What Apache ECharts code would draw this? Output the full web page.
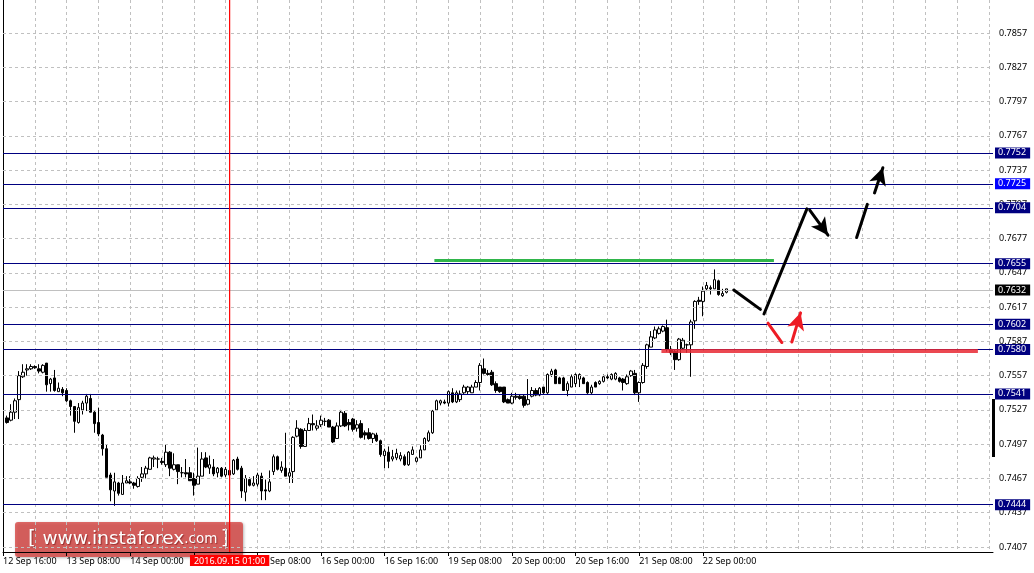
<!DOCTYPE html>
<html><head><meta charset="utf-8">
<script src="https://cdn.jsdelivr.net/npm/echarts@6/dist/echarts.min.js"></script>
<style>html,body{margin:0;padding:0;background:#fff}#c{width:1034px;height:573px}</style>
</head><body><div id="c"></div>
<script>
// H1 candles [open, close, low, high], first one is 12 Sep 17:00
const ohlc = [
[0.7520,0.7516,0.7515,0.7522],[0.7518,0.7525,0.7517,0.7532],[0.7525,0.7535,0.7519,0.7537],[0.7536,0.7557,0.7519,0.7561],
[0.7556,0.7560,0.7555,0.7567],[0.7562,0.7563,0.7557,0.7567],[0.7563,0.7565,0.7562,0.7567],[0.7565,0.7564,0.7563,0.7566],
[0.7563,0.7561,0.7559,0.7567],[0.7560,0.7566,0.7559,0.7567],[0.7568,0.7549,0.7543,0.7568],[0.7550,0.7554,0.7543,0.7555],
[0.7555,0.7544,0.7543,0.7562],[0.7543,0.7546,0.7543,0.7551],[0.7545,0.7542,0.7539,0.7547],[0.7544,0.7535,0.7534,0.7546],
[0.7535,0.7530,0.7522,0.7536],[0.7530,0.7517,0.7507,0.7530],[0.7516,0.7529,0.7515,0.7533],[0.7527,0.7533,0.7523,0.7535],
[0.7533,0.7539,0.7526,0.7541],[0.7537,0.7525,0.7525,0.7541],[0.7525,0.7515,0.7507,0.7526],[0.7516,0.7506,0.7504,0.7529],
[0.7505,0.7493,0.7487,0.7506],[0.7493,0.7468,0.7468,0.7497],[0.7470,0.7457,0.7447,0.7472],[0.7456,0.7464,0.7443,0.7472],
[0.7463,0.7454,0.7452,0.7464],[0.7453,0.7463,0.7453,0.7470],[0.7463,0.7465,0.7463,0.7469],[0.7464,0.7463,0.7462,0.7469],
[0.7463,0.7461,0.7458,0.7464],[0.7460,0.7467,0.7459,0.7469],[0.7468,0.7471,0.7464,0.7477],[0.7471,0.7476,0.7467,0.7478],
[0.7475,0.7485,0.7475,0.7486],[0.7484,0.7485,0.7477,0.7487],[0.7484,0.7484,0.7476,0.7486],[0.7482,0.7481,0.7479,0.7485],
[0.7479,0.7490,0.7477,0.7497],[0.7490,0.7476,0.7469,0.7491],[0.7475,0.7479,0.7474,0.7489],[0.7479,0.7473,0.7462,0.7479],
[0.7472,0.7472,0.7468,0.7477],[0.7472,0.7471,0.7468,0.7484],[0.7472,0.7465,0.7465,0.7477],[0.7467,0.7461,0.7452,0.7472],
[0.7462,0.7469,0.7462,0.7494],[0.7469,0.7484,0.7469,0.7490],[0.7485,0.7477,0.7476,0.7490],[0.7476,0.7479,0.7471,0.7487],
[0.7477,0.7471,0.7469,0.7484],[0.7472,0.7476,0.7468,0.7477],[0.7476,0.7469,0.7468,0.7477],[0.7470,0.7475,0.7468,0.7477],
[0.7474,0.7470,0.7469,0.7475],[0.7471,0.7483,0.7470,0.7484],[0.7484,0.7475,0.7474,0.7486],[0.7476,0.7456,0.7450,0.7478],
[0.7455,0.7467,0.7447,0.7470],[0.7466,0.7461,0.7460,0.7468],[0.7461,0.7463,0.7460,0.7469],[0.7462,0.7470,0.7460,0.7472],
[0.7469,0.7456,0.7448,0.7472],[0.7457,0.7456,0.7448,0.7466],[0.7456,0.7464,0.7455,0.7474],[0.7473,0.7486,0.7470,0.7488],
[0.7486,0.7475,0.7474,0.7487],[0.7474,0.7477,0.7472,0.7482],[0.7476,0.7469,0.7469,0.7507],[0.7469,0.7472,0.7463,0.7476],
[0.7473,0.7503,0.7463,0.7504],[0.7504,0.7511,0.7503,0.7518],[0.7510,0.7495,0.7493,0.7511],[0.7495,0.7509,0.7495,0.7511],
[0.7509,0.7515,0.7509,0.7520],[0.7515,0.7514,0.7509,0.7523],[0.7511,0.7513,0.7509,0.7518],[0.7514,0.7518,0.7512,0.7522],
[0.7517,0.7517,0.7513,0.7520],[0.7518,0.7512,0.7512,0.7519],[0.7512,0.7499,0.7498,0.7513],[0.7502,0.7513,0.7502,0.7516],
[0.7513,0.7525,0.7512,0.7527],[0.7524,0.7513,0.7512,0.7526],[0.7516,0.7514,0.7509,0.7519],[0.7519,0.7510,0.7508,0.7520],
[0.7511,0.7514,0.7508,0.7518],[0.7515,0.7503,0.7502,0.7518],[0.7507,0.7505,0.7501,0.7509],[0.7507,0.7502,0.7501,0.7511],
[0.7502,0.7506,0.7498,0.7507],[0.7505,0.7500,0.7499,0.7507],[0.7500,0.7488,0.7486,0.7501],[0.7487,0.7491,0.7476,0.7493],
[0.7490,0.7482,0.7476,0.7495],[0.7484,0.7486,0.7482,0.7492],[0.7485,0.7489,0.7483,0.7493],[0.7484,0.7487,0.7482,0.7490],
[0.7486,0.7479,0.7478,0.7488],[0.7479,0.7490,0.7478,0.7491],[0.7488,0.7492,0.7488,0.7495],[0.7482,0.7485,0.7481,0.7486],
[0.7485,0.7492,0.7485,0.7496],[0.7492,0.7502,0.7492,0.7503],[0.7500,0.7507,0.7499,0.7509],[0.7507,0.7526,0.7506,0.7527],
[0.7527,0.7535,0.7526,0.7536],[0.7533,0.7535,0.7531,0.7536],[0.7534,0.7533,0.7532,0.7536],[0.7533,0.7543,0.7530,0.7544],
[0.7542,0.7534,0.7533,0.7546],[0.7534,0.7542,0.7533,0.7544],[0.7536,0.7541,0.7534,0.7544],[0.7542,0.7547,0.7541,0.7549],
[0.7543,0.7547,0.7541,0.7548],[0.7542,0.7547,0.7542,0.7549],[0.7547,0.7551,0.7547,0.7553],[0.7551,0.7566,0.7544,0.7568],
[0.7563,0.7559,0.7558,0.7572],[0.7559,0.7558,0.7557,0.7562],[0.7560,0.7549,0.7548,0.7562],[0.7550,0.7544,0.7542,0.7552],
[0.7547,0.7543,0.7542,0.7547],[0.7547,0.7534,0.7533,0.7547],[0.7536,0.7533,0.7533,0.7537],[0.7533,0.7539,0.7532,0.7542],
[0.7539,0.7538,0.7536,0.7542],[0.7539,0.7537,0.7536,0.7540],[0.7539,0.7531,0.7529,0.7540],[0.7532,0.7536,0.7531,0.7554],
[0.7539,0.7544,0.7538,0.7547],[0.7544,0.7540,0.7539,0.7546],[0.7540,0.7546,0.7539,0.7547],[0.7547,0.7542,0.7541,0.7547],
[0.7542,0.7558,0.7541,0.7559],[0.7558,0.7561,0.7556,0.7563],[0.7562,0.7550,0.7550,0.7563],[0.7555,0.7550,0.7550,0.7556],
[0.7555,0.7544,0.7544,0.7556],[0.7544,0.7550,0.7539,0.7552],[0.7547,0.7556,0.7547,0.7558],[0.7550,0.7558,0.7547,0.7559],
[0.7554,0.7558,0.7547,0.7559],[0.7555,0.7550,0.7550,0.7556],[0.7551,0.7542,0.7541,0.7552],[0.7542,0.7547,0.7541,0.7549],
[0.7551,0.7547,0.7547,0.7552],[0.7550,0.7552,0.7549,0.7553],[0.7552,0.7556,0.7551,0.7558],[0.7556,0.7555,0.7554,0.7558],
[0.7554,0.7558,0.7553,0.7559],[0.7554,0.7559,0.7553,0.7560],[0.7555,0.7552,0.7551,0.7556],[0.7554,0.7551,0.7544,0.7555],
[0.7550,0.7556,0.7549,0.7558],[0.7557,0.7561,0.7556,0.7562],[0.7559,0.7542,0.7540,0.7562],[0.7542,0.7551,0.7534,0.7552],
[0.7551,0.7566,0.7550,0.7568],[0.7565,0.7584,0.7563,0.7585],[0.7582,0.7591,0.7582,0.7596],[0.7590,0.7597,0.7589,0.7600],
[0.7594,0.7598,0.7593,0.7600],[0.7596,0.7600,0.7595,0.7601],[0.7599,0.7580,0.7578,0.7606],[0.7580,0.7577,0.7575,0.7583],
[0.7578,0.7571,0.7562,0.7580],[0.7571,0.7589,0.7570,0.7590],[0.7581,0.7588,0.7580,0.7590],[0.7584,0.7584,0.7577,0.7585],
[0.7584,0.7604,0.7556,0.7606],[0.7605,0.7622,0.7598,0.7623],[0.7623,0.7622,0.7619,0.7626],[0.7622,0.7631,0.7609,0.7635],
[0.7633,0.7636,0.7631,0.7639],[0.7634,0.7633,0.7628,0.7636],[0.7633,0.7641,0.7633,0.7650],[0.7640,0.7628,0.7627,0.7641],
[0.7627,0.7629,0.7626,0.7633],[0.7630,0.7633,0.7629,0.7633]
];
const firstSlotTime = '2016-09-12T16:00:00Z'; // slot 0 (label "12 Sep 16:00")
const totalSlots = 250;
const lastLabelSlot = 176;
const priceMin = 0.74026, priceMax = 0.78859;
const gridTicks = [0.7407,0.7437,0.7467,0.7497,0.7527,0.7557,0.7587,0.7617,0.7647,0.7677,0.7707,0.7737,0.7767,0.7797,0.7827,0.7857,0.7887];
const levels = [0.7752,0.7704,0.7655,0.7602,0.7580,0.7541,0.7444];
const levelsBright = [0.7725];
const currentPrice = 0.7632;
const crossSlot = 57;
const crossLabel = '2016.09.15 01:00';
const greenLine = [[108.5,0.7658],[193.9,0.7658]];
const redLine = [[165.6,0.7579],[245.2,0.7579]];
// [start, end, arrowhead at end]
const blackPath = [
  [[183.8,0.7632],[190.5,0.7615],false],
  [[191.4,0.7611],[202.2,0.7703],false],
  [[202.9,0.7702],[207.5,0.7680],true],
  [[214.7,0.7678],[217.4,0.7707],false],
  [[219.2,0.7717],[221.3,0.7739],true]
];
const redPath = [
  [[192.4,0.7603],[195.9,0.7586],false],
  [[198.4,0.75865],[200.6,0.7612],true]
];

// build hourly slots (weekends skipped)
const mon = ['Jan','Feb','Mar','Apr','May','Jun','Jul','Aug','Sep','Oct','Nov','Dec'];
const cats = [];
let t = Date.parse(firstSlotTime);
while (cats.length < totalSlots) {
  const d = new Date(t);
  const wd = d.getUTCDay();
  if (wd !== 0 && wd !== 6) {
    cats.push(d.getUTCDate() + ' ' + mon[d.getUTCMonth()] + ' ' + String(d.getUTCHours()).padStart(2,'0') + ':00');
  }
  t += 3600000;
}
const candleData = cats.map((c, k) => (k >= 1 && k <= ohlc.length) ? ohlc[k-1] : '-');

const FONT = 'Noto Sans';
const FS = 9;
const lblInt = (i) => i % 16 === 0 && i <= lastLabelSlot;

function segData(path, size) {
  return path.map(s => [
    { coord: s[0], symbol: 'none' },
    { coord: s[1], symbol: s[2] ? 'arrow' : 'none', symbolSize: size }
  ]);
}
const baseML = { symbol: 'none', silent: true, animation: false, precision: 5, emphasis: { disabled: true } };
const boxLabel = (bg) => ({ show: true, position: 'end', distance: 2, color: '#fff', backgroundColor: bg,
  padding: [1, 4, 0, 3], lineHeight: 10, fontSize: FS, fontFamily: FONT, formatter: p => Number(p.value).toFixed(4) });

const chart = echarts.init(document.getElementById('c'), null, {renderer: 'canvas'});
chart.setOption({
  animation: false,
  backgroundColor: '#fff',
  grid: { left: -1, right: 41, top: 0, bottom: 21, containLabel: false },
  xAxis: [{
    type: 'category', data: cats, boundaryGap: false,
    axisLine: { lineStyle: { color: '#000', width: 1 } },
    axisTick: { show: true, interval: lblInt, length: 4, lineStyle: { color: '#000' } },
    axisLabel: { interval: lblInt, align: 'left', margin: 5, fontSize: FS, fontFamily: FONT, color: '#000' },
    splitLine: { show: true, interval: (i) => i % 8 === 0, lineStyle: { color: '#c0c0c0', type: [3, 3], width: 1 } }
  }, {
    type: 'value', min: 0, max: totalSlots - 1, show: false
  }],
  yAxis: [{
    type: 'value', min: priceMin, max: priceMax, position: 'right', scale: true,
    axisLine: { show: true, lineStyle: { color: '#000' } },
    axisTick: { show: false }, axisLabel: { show: false }, splitLine: { show: false }
  }],
  graphic: [
    { type: 'rect', left: 992, top: 399, shape: { width: 3, height: 58 }, style: { fill: '#000' }, z: 10 },
    { type: 'group', left: 15, top: 522, z: 20, children: [
      { type: 'rect', shape: { x: 0, y: 0, width: 228, height: 35, r: 3 },
        style: { fill: 'rgba(216,70,68,0.8)', shadowBlur: 3, shadowColor: 'rgba(0,0,0,0.35)', shadowOffsetX: 1, shadowOffsetY: 1 } },
      { type: 'text', x: 13, y: 17, style: {
          text: '{b|[}  {w|www.instaforex}{c|.com} {b|]}', verticalAlign: 'middle',
          rich: {
            b: { fontSize: 20, fontFamily: 'DejaVu Sans', fill: '#fff' },
            w: { fontSize: 18.5, fontFamily: 'DejaVu Sans', fill: '#fff' },
            c: { fontSize: 13.5, fontFamily: 'DejaVu Sans', fill: '#fff' }
          }, textShadowColor: 'rgba(90,0,0,0.5)', textShadowBlur: 1, textShadowOffsetX: 1, textShadowOffsetY: 1 } }
    ]}
  ],
  series: [
    { // dashed price grid with labels
      type: 'line', xAxisIndex: 1, data: [], z: 1, silent: true,
      markLine: Object.assign({}, baseML, {
        lineStyle: { color: '#c0c0c0', type: [3, 3], width: 1 },
        label: { show: true, position: 'end', distance: 6, color: '#000', fontSize: FS, fontFamily: FONT,
                 formatter: p => Number(p.value).toFixed(4) },
        data: gridTicks.map(v => ({ yAxis: v })) })
    },
    { // current price line
      type: 'line', xAxisIndex: 1, data: [], z: 2, silent: true,
      markLine: Object.assign({}, baseML, {
        lineStyle: { color: '#c0c0c0', type: 'solid', width: 1 },
        label: boxLabel('#000'),
        data: [{ yAxis: currentPrice }] })
    },
    {
      type: 'candlestick', xAxisIndex: 0, yAxisIndex: 0, data: candleData, barWidth: 3, z: 3,
      itemStyle: { color: '#fff', color0: '#000', borderColor: '#000', borderColor0: '#000', borderWidth: 1 },
      emphasis: { disabled: true }
    },
    { // level lines
      type: 'line', xAxisIndex: 1, data: [], z: 5, silent: true,
      markLine: Object.assign({}, baseML, {
        lineStyle: { color: '#000080', type: 'solid', width: 1 },
        label: boxLabel('#000080'),
        data: levels.map(v => ({ yAxis: v })).concat(levelsBright.map(v => ({ yAxis: v,
          label: { backgroundColor: '#0000ff' } }))) })
    },
    { // crosshair vertical line as a plain line series
      type: 'line', xAxisIndex: 1, z: 6, silent: true, showSymbol: false, symbol: 'none',
      color: '#ff0000', lineStyle: { color: '#ff0000', width: 1.2, opacity: 1 },
      emphasis: { disabled: true },
      data: [[crossSlot, priceMin], [crossSlot, priceMax]]
    },
    { // crosshair time label on the time axis
      type: 'line', xAxisIndex: 1, data: [], z: 8, silent: true,
      markLine: Object.assign({}, baseML, {
        lineStyle: { color: 'rgba(255,0,0,0)', width: 1 },
        label: { show: true, position: 'start', distance: 3, color: '#fff', backgroundColor: '#ff0000', padding: [1, 4, 0, 4],
                 lineHeight: 10, fontSize: FS, fontFamily: FONT, formatter: () => crossLabel },
        data: [[{ coord: [crossSlot, priceMin] }, { coord: [crossSlot, priceMax] }]] })
    },
    { // green resistance segment
      type: 'line', xAxisIndex: 1, data: [], z: 6, silent: true,
      markLine: Object.assign({}, baseML, { label: { show: false },
        lineStyle: { color: '#2fb54a', type: 'solid', width: 3 },
        data: [[{ coord: greenLine[0] }, { coord: greenLine[1] }]] })
    },
    { // red support segment
      type: 'line', xAxisIndex: 1, data: [], z: 6, silent: true,
      markLine: Object.assign({}, baseML, { label: { show: false },
        lineStyle: { color: 'rgba(232,40,50,0.85)', type: 'solid', width: 4 },
        data: [[{ coord: redLine[0] }, { coord: redLine[1] }]] })
    },
    { // black forecast path
      type: 'line', xAxisIndex: 1, data: [], z: 7, silent: true,
      markLine: Object.assign({}, baseML, { label: { show: false },
        lineStyle: { color: '#000', type: 'solid', width: 3, cap: 'round' },
        itemStyle: { color: '#000' },
        data: segData(blackPath, [13, 17]) })
    },
    { // red forecast path
      type: 'line', xAxisIndex: 1, data: [], z: 7, silent: true,
      markLine: Object.assign({}, baseML, { label: { show: false },
        lineStyle: { color: '#ee1c25', type: 'solid', width: 3, cap: 'round' },
        itemStyle: { color: '#ee1c25' },
        data: segData(redPath, [13, 17]) })
    }
  ]
});
</script></body></html>
